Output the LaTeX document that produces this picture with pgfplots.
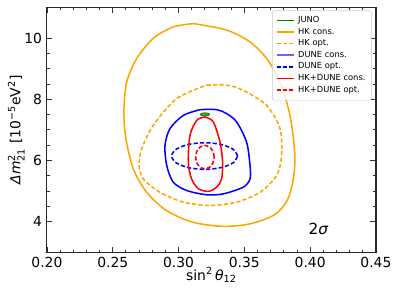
\documentclass[border=0pt]{standalone}
\usepackage{pgfplots}
\pgfplotsset{compat=1.18}
\usepackage{amsmath}
\usepackage{fontspec}
\setmainfont{DejaVu Sans}
\definecolor{mplorange}{HTML}{FFA500}
\definecolor{mplgreen}{HTML}{008000}
\begin{document}
\begin{tikzpicture}
\begin{axis}[
  width=236.9pt, height=176.4pt, scale only axis,
  xmin=0.2, xmax=0.45, ymin=3, ymax=11,
  xtick={0.2,0.25,0.3,0.35,0.4,0.45},
  ytick={4,6,8,10},
  minor x tick num=4, minor y tick num=3,
  tick align=inside,
  major tick length=4pt, minor tick length=2pt,
  tick style={black!80, line width=0.6pt},
  axis line style={line width=0.8pt, black!85},
  /pgf/number format/assume math mode=true,
  xticklabel style={/pgf/number format/.cd, fixed, fixed zerofill, precision=2},
  ticklabel style={font=\fontsize{10}{12}\selectfont},
  xlabel={sin$^{\text{2}}$\,\textit{θ}$_{\text{12}}$},
  ylabel={\textit{Δm}$^{\text{2}}_{\text{21}}$ [10$^{\text{−5}}$eV$^{\text{2}}$]},
  xlabel style={at={(axis description cs:0.5,-0.093)}, anchor=center, font=\fontsize{10}{12}\selectfont},
  ylabel style={at={(axis description cs:-0.093,0.5)}, anchor=center, rotate=0, font=\fontsize{10}{12}\selectfont},
  legend style={at={(0.9868,0.9886)}, anchor=north east, font=\fontsize{6}{7}\selectfont,
    draw=black!20, rounded corners=1.5pt, fill=white, fill opacity=0.8, text opacity=1,
    inner sep=2.2pt, row sep=-1.5pt},
  legend cell align=left,
  legend image code/.code={\draw[#1] (0cm,0cm) -- (0.45cm,0cm);},
]
% JUNO
\addplot[draw=mplgreen, fill=mplgreen!70, line width=0.6pt, smooth,
  legend image code/.code={\draw[mplgreen, line width=0.9pt] (0cm,0cm) -- (0.45cm,0cm);}]
coordinates {(0.3236,7.505) (0.3231,7.530) (0.3219,7.548) (0.3201,7.555) (0.3184,7.548) (0.3171,7.530) (0.3166,7.505) (0.3171,7.480) (0.3184,7.462) (0.3201,7.455) (0.3219,7.462) (0.3231,7.480) (0.3236,7.505)};
\addlegendentry{JUNO}
% HK cons
\addplot[mplorange, line width=1.1pt, smooth] coordinates {
(0.3112,10.47) (0.3365,10.26) (0.3543,9.87) (0.3669,9.33) (0.3771,8.56) (0.3847,7.47) (0.3884,6.17) (0.3870,5.35) (0.3826,4.70) (0.3730,4.23) (0.3543,3.93) (0.3340,3.85) (0.3112,3.98) (0.2910,4.36) (0.2758,4.96) (0.2656,5.73) (0.2600,6.71) (0.2585,7.58) (0.2606,8.56) (0.2682,9.33) (0.2808,9.99) (0.2960,10.36) (0.3112,10.47)};
\addlegendentry{HK cons.}
% HK opt
\addplot[mplorange, line width=1.1pt, smooth, dash pattern=on 3pt off 1.6pt] coordinates {
(0.3214,8.46) (0.3365,8.46) (0.3492,8.29) (0.3669,7.80) (0.3771,7.04) (0.3783,6.17) (0.3745,5.51) (0.3619,4.96) (0.3441,4.64) (0.3239,4.53) (0.3036,4.64) (0.2859,4.96) (0.2732,5.40) (0.2701,5.84) (0.2720,6.38) (0.2808,7.15) (0.2986,8.02) (0.3214,8.46)};
\addlegendentry{HK opt.}
% DUNE cons
\addplot[blue, line width=1.1pt, smooth,
  legend image code/.code={\draw[blue!60, line width=1.6pt] (0cm,0cm) -- (0.45cm,0cm);}] coordinates {
(0.3163,7.66) (0.3290,7.66) (0.3365,7.53) (0.3441,7.26) (0.3517,6.60) (0.3543,5.84) (0.3543,5.40) (0.3492,5.13) (0.3340,4.91) (0.3214,4.88) (0.3062,5.02) (0.2960,5.29) (0.2910,5.84) (0.2897,6.49) (0.2935,7.04) (0.3036,7.47) (0.3163,7.66)};
\addlegendentry{DUNE cons.}
% DUNE opt
\addplot[blue, line width=1.1pt, smooth, dash pattern=on 3pt off 1.6pt] coordinates {
(0.3449,6.145) (0.3416,6.363) (0.3324,6.522) (0.3198,6.580) (0.3073,6.522) (0.2981,6.363) (0.2947,6.145) (0.2981,5.928) (0.3073,5.768) (0.3198,5.710) (0.3324,5.768) (0.3416,5.928) (0.3449,6.145)};
\addlegendentry{DUNE opt.}
% HK+DUNE cons
\addplot[red, line width=1.1pt, smooth] coordinates {
(0.3201,7.42) (0.3264,7.26) (0.3315,6.60) (0.3335,5.95) (0.3327,5.40) (0.3290,5.13) (0.3226,4.99) (0.3150,5.08) (0.3099,5.40) (0.3074,5.95) (0.3087,6.82) (0.3138,7.31) (0.3201,7.42)};
\addlegendentry{HK+DUNE cons.}
% HK+DUNE opt
\addplot[red, line width=1.1pt, smooth, dash pattern=on 3pt off 1.6pt] coordinates {
(0.3271,6.11) (0.3261,6.300) (0.3236,6.439) (0.3200,6.490) (0.3165,6.439) (0.3139,6.300) (0.3130,6.11) (0.3139,5.920) (0.3165,5.781) (0.3200,5.730) (0.3236,5.781) (0.3261,5.920) (0.3271,6.11)};
\addlegendentry{HK+DUNE opt.}
\node[font=\fontsize{11}{13}\selectfont] at (axis cs:0.4063,3.78) {2\textit{σ}};
\end{axis}
\path ([xshift=-33.8pt,yshift=-33.8pt]current axis.south west) rectangle ([xshift=16.6pt,yshift=5.3pt]current axis.north east);
\end{tikzpicture}
\end{document}
